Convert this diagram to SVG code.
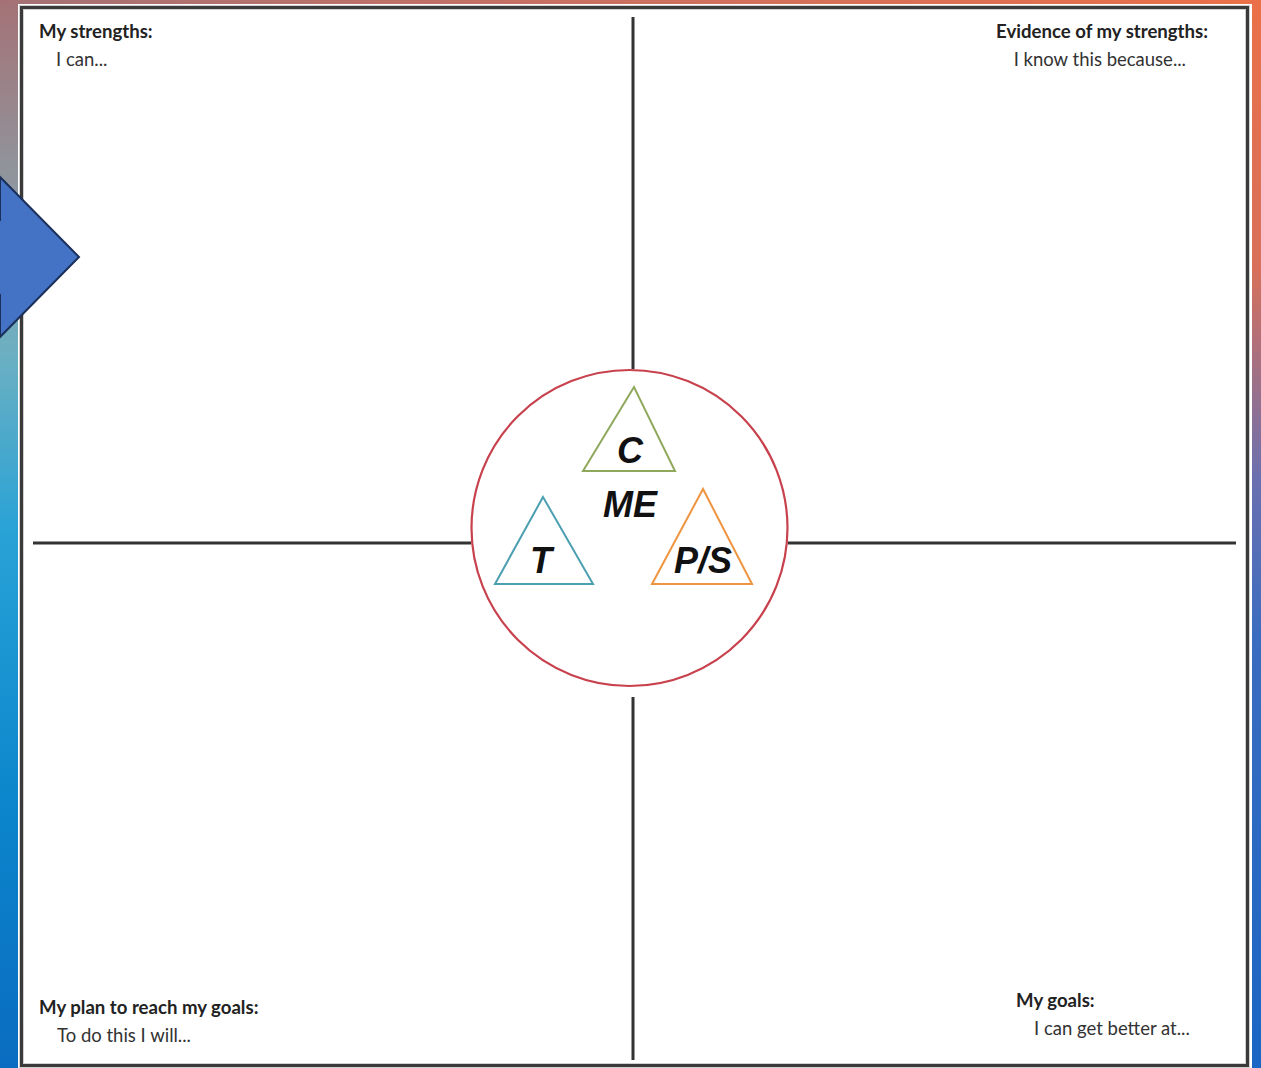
<svg xmlns="http://www.w3.org/2000/svg" width="1261" height="1068" viewBox="0 0 1261 1068">
<defs>
<linearGradient id="gLeft" x1="0" y1="0" x2="0" y2="1">
<stop offset="0" stop-color="#a47276"/>
<stop offset="0.18" stop-color="#8e98a0"/>
<stop offset="0.33" stop-color="#6cb0c2"/>
<stop offset="0.5" stop-color="#28a2d6"/>
<stop offset="0.75" stop-color="#0c86cc"/>
<stop offset="1" stop-color="#0a6cc0"/>
</linearGradient>
<linearGradient id="gRight" x1="0" y1="0" x2="0" y2="1">
<stop offset="0" stop-color="#ea7048"/>
<stop offset="0.25" stop-color="#d8705a"/>
<stop offset="0.45" stop-color="#6a70b0"/>
<stop offset="0.6" stop-color="#3a6cc0"/>
<stop offset="1" stop-color="#1a66c4"/>
</linearGradient>
<linearGradient id="gTop" x1="0" y1="0" x2="1" y2="0">
<stop offset="0" stop-color="#a47276"/>
<stop offset="0.5" stop-color="#cc7060"/>
<stop offset="1" stop-color="#ea7048"/>
</linearGradient>
<style>
.line{stroke:#333;stroke-width:3;fill:none}
.head{font-family:Lato,"Liberation Sans",sans-serif;font-weight:bold;font-size:18.6px;fill:#222}
.sub{font-family:Lato,"Liberation Sans",sans-serif;font-size:18.5px;fill:#333}
.big{font-family:"Liberation Sans",Arial,sans-serif;font-weight:bold;font-style:italic;font-size:36px;fill:#111;text-anchor:middle}
.tri{fill:#fff;stroke-width:2}
</style>
</defs>
<g id="background">
<rect x="0" y="0" width="1261" height="1068" fill="#ffffff"/>
<rect x="0" y="0" width="18" height="1068" fill="url(#gLeft)"/>
<rect x="1252" y="0" width="9" height="1068" fill="url(#gRight)"/>
<rect x="0" y="0" width="1261" height="4" fill="url(#gTop)"/>
<rect x="18" y="4" width="1234" height="1064" fill="#ffffff"/>
<rect x="21.5" y="7.5" width="1226" height="1058" fill="none" stroke="#d0d0d0" stroke-width="5"/>
<rect x="21.5" y="7.5" width="1226" height="1058" fill="none" stroke="#3a3a3a" stroke-width="3"/>
</g>
<g id="connectors">
<line class="line" x1="633" y1="17" x2="633" y2="369"/>
<line class="line" x1="633" y1="697" x2="633" y2="1060"/>
<line class="line" x1="33" y1="543" x2="471" y2="543"/>
<line class="line" x1="788" y1="543" x2="1236" y2="543"/>
</g>
<g id="arrow">
<path d="M-20,220 L0,220 L0,177 L79,257 L0,337 L0,295 L-20,295 Z" fill="#4472c4" stroke="#1a2f5a" stroke-width="2"/>
</g>
<g id="q-strengths">
<text class="head" x="39" y="38">My strengths:</text>
<text class="sub" x="56" y="66">I can...</text>
</g>
<g id="q-evidence">
<text class="head" x="1208" y="38" text-anchor="end">Evidence of my strengths:</text>
<text class="sub" x="1186" y="66" text-anchor="end">I know this because...</text>
</g>
<g id="q-plan">
<text class="head" x="39" y="1014">My plan to reach my goals:</text>
<text class="sub" x="57" y="1042">To do this I will...</text>
</g>
<g id="q-goals">
<text class="head" x="1016" y="1007">My goals:</text>
<text class="sub" x="1034" y="1035">I can get better at...</text>
</g>
<g id="me">
<circle cx="629.5" cy="528" r="158" fill="#ffffff" stroke="#c8424e" stroke-width="2.2"/>
<text class="big" x="630" y="517">ME</text>
</g>
<g id="tri-c">
<polygon class="tri" points="634,387 583,471 675,471" stroke="#8fa95c"/>
<text class="big" x="630" y="463">C</text>
</g>
<g id="tri-t">
<polygon class="tri" points="543,497 495,584 593,584" stroke="#4c9fb0"/>
<text class="big" x="541" y="573">T</text>
</g>
<g id="tri-ps">
<polygon class="tri" points="703,489 652,584 752,584" stroke="#ef9440"/>
<text class="big" x="703" y="573">P/S</text>
</g>
</svg>
